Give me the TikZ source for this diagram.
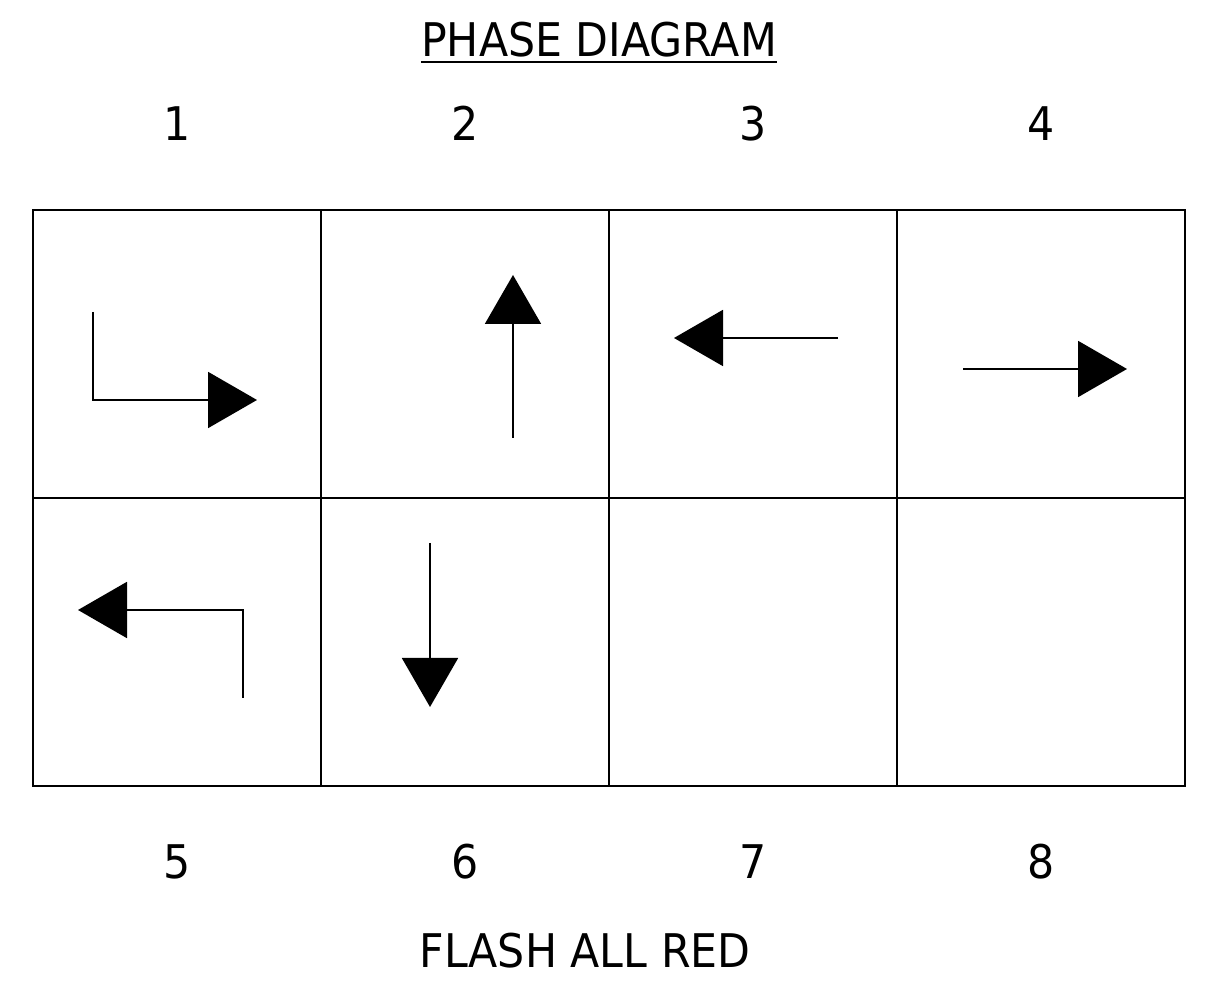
\documentclass[tikz,border=0pt]{standalone}
\usepackage{fontspec}
\newfontfamily\phasefont[FakeStretch=0.92]{DejaVu Sans}
\usepackage{tikz}
\usetikzlibrary{positioning}
\usetikzlibrary{arrows.meta}

\tikzset{
  cell/.style={draw, line width=1.4pt, minimum size=7.2cm, inner sep=0pt, outer sep=0pt},
  phasetext/.style={font=\fontsize{33}{40}\selectfont\phasefont, inner sep=0pt},
  movearrow/.style={line width=1.4pt, -{Triangle[length=1.225cm, width=1.4cm]}},
}

\begin{document}
\begin{tikzpicture}

\useasboundingbox (0,0) rectangle (30.25,24.775);

%---------------------------------------
% Title
%---------------------------------------
\node[phasetext, anchor=base] (title) at (14.975,23.35) {PHASE DIAGRAM};
\draw[line width=1.4pt] ([yshift=-0.125cm]title.base west) -- ([yshift=-0.125cm]title.base east);

%---------------------------------------
% Phase cells
%---------------------------------------
\node[cell] (c1) at (4.425,15.925) {};
\node[cell, right=0pt of c1] (c2) {};
\node[cell, right=0pt of c2] (c3) {};
\node[cell, right=0pt of c3] (c4) {};
\node[cell, below=0pt of c1] (c5) {};
\node[cell, right=0pt of c5] (c6) {};
\node[cell, right=0pt of c6] (c7) {};
\node[cell, right=0pt of c7] (c8) {};

% Phase numbers
\node[phasetext] (n1) at ([yshift=2.16cm]c1.north) {1};
\node[phasetext] (n2) at ([yshift=2.16cm]c2.north) {2};
\node[phasetext] (n3) at ([yshift=2.16cm]c3.north) {3};
\node[phasetext] (n4) at ([yshift=2.16cm]c4.north) {4};
\node[phasetext] (n5) at ([yshift=-1.9cm]c5.south) {5};
\node[phasetext] (n6) at ([yshift=-1.9cm]c6.south) {6};
\node[phasetext] (n7) at ([yshift=-1.9cm]c7.south) {7};
\node[phasetext] (n8) at ([yshift=-1.9cm]c8.south) {8};

%---------------------------------------
% Movements
%---------------------------------------
\draw[movearrow] ([shift={(-2.1,1.05)}]c1.center) |- ([shift={(2.0,-1.15)}]c1.center);
\draw[movearrow] ([shift={(1.2,-2.1)}]c2.center) -- ([shift={(1.2,1.975)}]c2.center);
\draw[movearrow] ([shift={(2.125,0.4)}]c3.center) -- ([shift={(-1.975,0.4)}]c3.center);
\draw[movearrow] ([shift={(-1.95,-0.375)}]c4.center) -- ([shift={(2.15,-0.375)}]c4.center);
\draw[movearrow] ([shift={(1.65,-1.4)}]c5.center) |- ([shift={(-2.475,0.8)}]c5.center);
\draw[movearrow] ([shift={(-0.875,2.475)}]c6.center) -- ([shift={(-0.875,-1.625)}]c6.center);

% Footer
\node[phasetext] (flash) at (14.625,1.0125) {FLASH ALL RED};

\end{tikzpicture}
\end{document}
